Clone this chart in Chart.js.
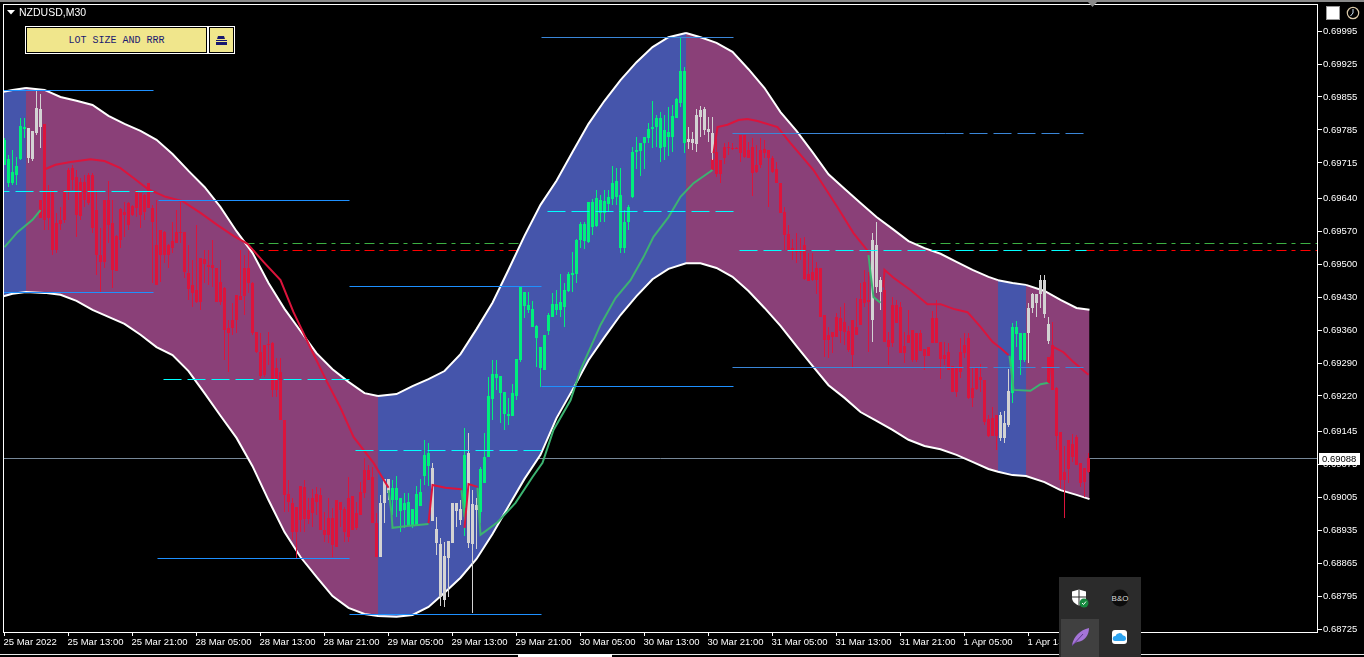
<!DOCTYPE html>
<html lang="en">
<head>
  <meta charset="UTF-8">
  <title>NZDUSD,M30</title>
  <script src="https://cdn.jsdelivr.net/npm/chart.js"></script>
  <style>
    html, body { margin: 0; height: 100%; background: #000; overflow: hidden; }
    #chart { position: absolute; left: 0; top: 0; }
    .abs { position: absolute; }
    .topstrip { left: 0; top: 0; width: 1364px; height: 2px; background: #8a8a8a; }
    .symbol { left: 19px; top: 6px; color: #fff; font: 10.5px "Liberation Sans", sans-serif; line-height: 13px; }
    .btn { background: #f0e68c; border: 1px solid #000; outline: 1px solid #fff; box-sizing: border-box; color: #191970; text-align: center; }
    .lot { left: 26px; top: 27px; width: 181px; height: 26px; font: 10px/26px "Liberation Mono", monospace; }
    .lot2 { left: 209px; top: 27px; width: 25px; height: 26px; }
    .tray { left: 1059px; top: 577px; width: 82px; height: 80px; background: #2b2b2b; }
    .hover { left: 2px; top: 42px; width: 38px; height: 38px; background: #404040; }
    .strip { left: 0; top: 654px; width: 1059px; height: 1px; background: #e8e8e8; }
    .strip2 { left: 1141px; top: 654px; width: 223px; height: 1px; background: #e8e8e8; }
    .tab { left: 518px; top: 654px; width: 94px; height: 3px; background: #fff; }
  </style>
</head>
<body>
  <canvas id="chart" width="1364" height="657"></canvas>

  <div class="abs topstrip"></div>
  <svg class="abs" style="left:1088px;top:2px" width="10" height="7"><path d="M0 0H9L4.5 5z" fill="#8a8a8a"/></svg>
  <svg class="abs" style="left:7px;top:10px" width="9" height="6"><path d="M0 0H8L4 4.5z" fill="#fff"/></svg>
  <div class="abs symbol">NZDUSD,M30</div>
  <div class="abs btn lot">LOT SIZE AND RRR</div>
  <div class="abs btn lot2">
    <svg width="13" height="11" style="margin-top:7px"><path d="M3 1h6l1 3H2zM1 5h11v1H1zM1 7h11v3H1z" fill="#191970"/></svg>
  </div>
  <svg class="abs" style="left:1326px;top:6px" width="15" height="15"><rect x="0.5" y="0.5" width="13" height="13" fill="#fff" stroke="#999"/></svg>
  <svg class="abs" style="left:1346px;top:6px" width="15" height="15"><circle cx="7" cy="7" r="5.7" fill="none" stroke="#d9c9a8" stroke-width="1.2"/><path d="M7 3v4l-2.5 3" fill="none" stroke="#cfe3f5"/></svg>

  <div class="abs strip"></div>
  <div class="abs strip2"></div>
  <div class="abs tab"></div>

  <div class="abs tray">
    <div class="abs hover"></div>
    <svg class="abs" style="left:12px;top:12px" width="20" height="20"><path d="M1 2.5 8 0.5l7 2v6c0 4-3 6.500-7 8-4-1.500-7-4-7-8z" fill="#fff"/><path d="M8 .5v16M1 8h14" stroke="#2b2b2b"/><circle cx="13" cy="14" r="4.500" fill="#16893f"/><path d="M11 14l1.500 1.500L15 12.500" stroke="#fff" fill="none"/></svg>
    <svg class="abs" style="left:52px;top:12px" width="18" height="18"><circle cx="9" cy="9" r="8.500" fill="#0c0c0c"/><text x="9" y="12" font-size="8" font-family="Liberation Sans" fill="#ddd" text-anchor="middle">B&amp;O</text></svg>
    <svg class="abs" style="left:12px;top:50px" width="20" height="20"><path d="M1 18C3 9 9 3 18 1c0 7-4 13-12 14z" fill="#a574d8"/><path d="M1 19 12 7" stroke="#5f3a8a"/></svg>
    <svg class="abs" style="left:53px;top:53px" width="16" height="15"><rect width="15" height="14" rx="3" fill="#fff"/><path d="M3 11a2.500 2.500 0 0 1 .5-5 4 4 0 0 1 7.500-.5 2.700 2.700 0 0 1 .5 5.500z" fill="#2ba3f0"/></svg>
  </div>

  <script>
    // x is the bar number (M30 bars), y is the price in points (69995 = 0.69995)
    const yTicks = [69995, 69925, 69855, 69785, 69715, 69640, 69570, 69500, 69430, 69360, 69290, 69220, 69145, 69075, 69005, 68935, 68865, 68795, 68725];
    const xTicks = [0, 16, 32, 48, 64, 80, 96, 112, 128, 144, 160, 176, 192, 208, 224, 240, 256];
    const xLabels = ['25 Mar 2022', '25 Mar 13:00', '25 Mar 21:00', '28 Mar 05:00', '28 Mar 13:00', '28 Mar 21:00', '29 Mar 05:00', '29 Mar 13:00', '29 Mar 21:00', '30 Mar 05:00', '30 Mar 13:00', '30 Mar 21:00', '31 Mar 05:00', '31 Mar 13:00', '31 Mar 21:00', '1 Apr 05:00', '1 Apr 13:00'];
    const currentPrice = 69088;

    const highs = [
      69768,69732,69742,69728,69810,69810,69789,69783,69870,69861,
      69798,69668,69657,69609,69621,69657,69704,69711,69700,69683,
      69689,69694,69694,69657,69577,69636,69677,69636,69562,69619,
      69632,69632,69626,69657,69651,69649,69672,69626,69636,69573,
      69570,69543,69590,69615,69632,69568,69541,69509,69583,69513,
      69530,69530,69551,69492,69509,69451,69381,69418,69435,69530,
      69519,69530,69462,69356,69354,69328,69356,69335,69301,69301,
      69169,69042,69003,68984,69029,69042,69003,69022,69027,69025,
      68974,69003,68982,68999,68995,68984,69048,69008,68995,69037,
      69088,69073,69069,68972,69010,69044,69044,69042,69050,69003,
      69014,69014,68980,69029,69044,69127,69120,69078,68963,68918,
      68910,68912,68993,68993,68999,69152,69141,69020,69003,69069,
      69141,69260,69296,69296,69263,69229,69216,69246,69299,69451,
      69441,69441,69422,69371,69324,69350,69396,69439,69445,69479,
      69460,69483,69526,69553,69590,69590,69632,69638,69657,69647,
      69657,69657,69708,69704,69704,69615,69626,69749,69770,69757,
      69770,69800,69847,69817,69823,69817,69834,69838,69853,69982,
      69919,69791,69781,69830,69836,69834,69812,69812,69766,69721,
      69757,69759,69757,69749,69774,69774,69759,69768,69753,69768,
      69764,69742,69730,69717,69672,69621,69583,69553,69566,69556,
      69558,69524,69524,69505,69492,69392,69367,69356,69396,69409,
      69418,69369,69381,69428,69460,69488,69483,69566,69590,69473,
      69451,69356,69430,69424,69420,69356,69403,69360,69354,69360,
      69320,69324,69401,69424,69335,69335,69333,69284,69279,69343,
      69354,69354,69279,69279,69288,69254,69180,69197,69180,69186,
      69188,69277,69375,69379,69354,69354,69418,69439,69437,69477,
      69477,69388,69377,69239,69144,69114,69127,69139,69137,69078,
      69067,69099
    ];
    const bodyTops = [
      69764,69723,69696,69708,69793,69791,69789,69783,69832,69830,
      69798,69657,69657,69587,69594,69657,69700,69704,69685,69674,
      69674,69689,69689,69615,69519,69636,69636,69587,69560,69617,
      69611,69630,69624,69657,69651,69647,69672,69619,69541,69573,
      69568,69541,69549,69568,69568,69568,69481,69456,69445,69513,
      69511,69498,69498,69492,69462,69449,69364,69381,69435,69432,
      69492,69492,69460,69356,69313,69328,69330,69333,69279,69271,
      69169,69012,68993,68984,69029,69027,68978,69003,69012,69010,
      68935,68961,68961,68999,68995,68980,69003,69008,68972,69016,
      69063,69063,69048,68950,68993,69044,69044,69025,69025,69003,
      68993,68995,68980,69012,69016,69095,69099,69067,68938,68906,
      68880,68912,68993,68993,68980,69095,69099,68991,68989,69065,
      69090,69220,69267,69267,69263,69229,69182,69226,69299,69451,
      69441,69413,69405,69369,69324,69350,69392,69415,69415,69420,
      69445,69479,69481,69551,69585,69585,69632,69632,69641,69636,
      69634,69643,69672,69677,69647,69590,69621,69738,69742,69757,
      69770,69787,69791,69810,69810,69785,69781,69815,69851,69910,
      69910,69766,69766,69817,69827,69830,69787,69779,69738,69721,
      69749,69749,69747,69747,69774,69774,69742,69749,69711,69742,
      69745,69742,69725,69702,69672,69611,69564,69534,69530,69530,
      69541,69479,69483,69492,69492,69392,69350,69356,69388,69386,
      69377,69358,69381,69367,69426,69462,69424,69551,69541,69466,
      69445,69339,69413,69413,69409,69326,69350,69360,69354,69354,
      69320,69324,69386,69386,69335,69307,69313,69284,69279,69313,
      69328,69343,69237,69279,69260,69254,69171,69173,69180,69180,
      69163,69231,69367,69367,69354,69354,69407,69437,69437,69466,
      69466,69373,69328,69237,69144,69059,69127,69118,69133,69078,
      69067,69088
    ];
    const bodyBottoms = [
      69711,69672,69672,69689,69723,69787,69725,69723,69779,69791,
      69594,69598,69530,69530,69585,69594,69653,69679,69604,69602,
      69636,69630,69577,69519,69505,69505,69583,69488,69485,69551,
      69604,69583,69604,69619,69604,69611,69619,69590,69456,69519,
      69519,69519,69534,69545,69566,69483,69447,69439,69420,69420,
      69500,69494,69492,69420,69420,69360,69354,69364,69381,69424,
      69432,69460,69354,69313,69262,69265,69328,69233,69233,69169,
      69010,68995,68931,68931,68957,68959,68959,68972,68995,68935,
      68925,68925,68904,68899,68978,68931,68921,68935,68940,68967,
      69014,69042,68950,68878,68878,68993,69014,68999,68999,68976,
      68978,68944,68946,68944,68986,69050,69071,68955,68908,68793,
      68787,68876,68908,68976,68957,68982,68908,68906,68978,68974,
      69035,69090,69214,69258,69226,69182,69178,69178,69220,69296,
      69411,69403,69367,69343,69279,69275,69358,69388,69403,69403,
      69409,69443,69477,69479,69551,69549,69547,69579,69581,69609,
      69609,69628,69638,69643,69534,69534,69590,69643,69738,69740,
      69757,69768,69787,69791,69747,69749,69770,69770,69810,69842,
      69757,69759,69757,69755,69813,69785,69781,69736,69691,69691,
      69725,69747,69745,69745,69736,69728,69725,69694,69696,69711,
      69736,69725,69696,69672,69609,69562,69530,69528,69526,69526,
      69468,69464,69466,69466,69388,69339,69339,69345,69345,69358,
      69356,69318,69307,69350,69371,69418,69420,69381,69451,69441,
      69335,69324,69333,69375,69311,69311,69333,69296,69296,69316,
      69305,69305,69333,69333,69299,69299,69275,69229,69229,69271,
      69311,69216,69216,69235,69254,69165,69135,69135,69135,69131,
      69131,69158,69226,69352,69296,69296,69354,69407,69418,69437,
      69394,69337,69233,69135,69042,69042,69065,69090,69073,69035,
      69037,69059
    ];
    const lows = [
      69711,69664,69668,69668,69721,69768,69715,69719,69774,69747,
      69573,69573,69519,69524,69573,69587,69636,69657,69558,69594,
      69621,69626,69566,69477,69441,69492,69545,69449,69485,69534,
      69558,69573,69602,69600,69577,69594,69619,69460,69456,69462,
      69502,69492,69524,69545,69545,69471,69424,69409,69418,69403,
      69460,69456,69451,69420,69413,69296,69271,69350,69354,69424,
      69392,69439,69350,69311,69258,69260,69286,69218,69218,69169,
      68974,68974,68914,68876,68931,68931,68948,68942,68967,68935,
      68910,68908,68878,68899,68942,68910,68910,68935,68935,68967,
      69003,69042,68950,68878,68878,68950,68999,68967,68963,68931,
      68940,68944,68940,68944,68986,69031,69029,68955,68882,68774,
      68772,68793,68908,68942,68946,68923,68897,68759,68895,68950,
      69035,69090,69169,69233,69163,69148,69158,69178,69211,69292,
      69386,69396,69367,69282,69239,69275,69350,69388,69392,69388,
      69367,69441,69441,69460,69534,69532,69545,69562,69579,69590,
      69590,69611,69626,69626,69524,69524,69573,69641,69702,69687,
      69702,69757,69747,69749,69717,69721,69730,69738,69810,69834,
      69736,69745,69742,69738,69770,69774,69759,69721,69685,69672,
      69713,69732,69742,69745,69717,69725,69725,69645,69694,69704,
      69725,69621,69694,69672,69609,69530,69530,69509,69502,69509,
      69466,69464,69464,69437,69388,69303,69301,69311,69345,69333,
      69328,69313,69282,69350,69371,69409,69313,69335,69439,69403,
      69335,69286,69324,69375,69311,69290,69333,69292,69292,69316,
      69275,69305,69333,69333,69256,69286,69275,69229,69218,69258,
      69301,69214,69197,69233,69229,69158,69133,69135,69105,69124,
      69120,69154,69205,69324,69265,69292,69290,69396,69388,69407,
      69386,69330,69233,69105,69025,68961,69035,69080,69073,69027,
      69006,69057
    ];

    // bar number where each colour run ends
    const runEnds = [5, 9, 93, 96, 106, 114, 115, 118, 170, 177, 216, 219, 248, 251, 255, 261, 271];
    const runKinds = ['up', 'flat', 'down', 'flat', 'up', 'flat', 'up', 'flat', 'up', 'flat', 'down', 'flat', 'down', 'flat', 'up', 'flat', 'down'];

    // red bodies showing under a grey bar in the same column
    const underBars = [9, 177, 261];
    const underTops = [69636, 69723, 69303];
    const underBottoms = [69598, 69700, 69248];

    // envelope
    const bandBars = [-0.25, 2, 5.375, 10, 14, 18, 22, 26, 30, 34, 38, 42, 46, 50, 54, 58, 62, 66, 70, 74, 78, 82, 86, 90, 93.375, 98, 102, 106, 110, 114, 118, 122, 126, 130, 134, 138, 142, 146, 150, 154, 158, 162, 166, 170.375, 174, 178, 182, 186, 190, 194, 198, 202, 206, 210, 214, 218, 222, 226, 230, 234, 238, 242, 246, 248.375, 252, 255.375, 260, 264, 268, 271.25];
    const bandUpper = [69866, 69870, 69874, 69870, 69855, 69847, 69838, 69815, 69798, 69783, 69764, 69734, 69698, 69664, 69621, 69570, 69524, 69460, 69405, 69358, 69311, 69277, 69250, 69226, 69220, 69224, 69241, 69256, 69273, 69309, 69362, 69418, 69488, 69560, 69626, 69677, 69738, 69798, 69847, 69891, 69929, 69961, 69982, 69991, 69982, 69970, 69951, 69914, 69874, 69823, 69783, 69738, 69691, 69660, 69630, 69600, 69575, 69549, 69534, 69522, 69505, 69488, 69473, 69466, 69460, 69456, 69443, 69424, 69407, 69403];
    const bandLower = [69432, 69437, 69441, 69439, 69435, 69422, 69403, 69388, 69373, 69350, 69324, 69307, 69273, 69226, 69178, 69131, 69071, 68999, 68931, 68878, 68836, 68795, 68770, 68757, 68753, 68751, 68755, 68772, 68802, 68834, 68874, 68927, 68986, 69044, 69095, 69173, 69233, 69296, 69345, 69392, 69432, 69468, 69490, 69502, 69502, 69492, 69473, 69443, 69407, 69369, 69326, 69284, 69243, 69216, 69186, 69167, 69148, 69127, 69114, 69107, 69095, 69080, 69065, 69059, 69052, 69050, 69037, 69020, 69010, 69001];
    const zoneEdges = [5.375, 93.375, 170.375, 248.375, 255.375];

    // moving average pieces, [bar, price]
    const redPieces = [
      [[10.25,69702],[12.75,69711],[16.5,69717],[21.5,69723],[25,69719],[29,69704],[32.25,69683],[35.75,69660],[40.25,69643],[44.5,69634],[49,69609],[53.25,69583],[57.25,69560],[60.75,69543],[64.75,69505],[69,69466],[72.25,69398],[76.5,69322],[80.75,69248],[84,69195],[87.25,69133],[92.25,69078],[96,69025]],
      [[106,68950],[107,69031],[110.25,69025],[114.25,69022]],
      [[115,68940],[116,69033],[118.25,69027]],
      [[177.25,69736],[178.25,69791],[180.75,69796],[183.5,69806],[185.75,69808],[188.25,69804],[193.25,69791],[196.5,69757],[202.25,69700],[208.25,69621],[212.25,69566],[216,69526]],
      [[219.75,69451],[220,69488],[222.25,69471],[226.5,69445],[230.75,69415],[234,69415],[237.25,69405],[240.75,69398],[244,69367],[247,69335],[249,69322],[251,69307]],
      [[261,69248],[261.5,69296],[262.25,69324],[264.75,69313],[267.25,69292],[271,69265]]
    ];
    const greenPieces = [
      [[0,69536],[3.25,69568],[7,69594],[9,69615]],
      [[96,69020],[96.75,68972],[97,68940],[100.75,68944],[106,68948]],
      [[114.25,69020],[115,68963]],
      [[118.25,69025],[119,68925],[123.25,68952],[127.75,68993],[132,69048],[134.5,69078],[137.25,69148],[141.5,69211],[144,69275],[149,69371],[152.75,69428],[156.5,69466],[159.75,69515],[162.25,69558],[166,69600],[169,69643],[172.25,69672],[177,69700]],
      [[216,69519],[216.5,69481],[217.25,69430],[219,69418]],
      [[251.25,69305],[252,69254],[252.25,69233],[256.5,69231],[259,69245],[261,69248]]
    ];

    // horizontal levels, [start bar, end bar, price]
    const blueLevels = [[-0.25,37.25,69870],[-0.25,37.25,69441],[38.5,86.25,69636],[86.25,134.25,69454],[38.25,86.25,68876],[86.25,134.25,68757],[134.25,182.25,69241]];
    const dimLevels = [[134.25,182.25,69982],[182,235.25,69779],[182,235.25,69282]];
    const dimDashLevels = [[235.25,270.5,69779],[235.25,271,69282]];
    const cyanLevels = [[39.75,86.25,69256],[87.75,134.25,69105],[135.75,182.25,69613],[183.75,270.5,69530],[-0.25,38.5,69655]];
    const dashDotLevels = [[60,328.2,69545,'#3cb043'],[60,328.2,69530,'#ff0000']];

    const red = '#dc143c', green = '#00f07c', grey = '#d3d3d3';
    const kindColors = { up: green, flat: grey, down: red };
    const bandBlue = '#4555ab', bandPurple = '#8a4078';

    const barColors = highs.map((h, i) => kindColors[runKinds[runEnds.findIndex(e => i <= e)]]);
    const zoneColor = bar => zoneEdges.filter(e => bar >= e).length % 2 === 0 ? bandBlue : bandPurple;

    function levelLine(level, color, order, dash, offset) {
      return {
        type: 'line',
        data: [{ x: level[0], y: level[2] }, { x: level[1], y: level[2] }],
        borderColor: color,
        borderWidth: 1,
        borderDash: dash || [],
        borderDashOffset: offset || 0,
        pointRadius: 0,
        crisp: true,
        order: order
      };
    }

    function maLine(piece, color) {
      return {
        type: 'line',
        data: piece.map(p => ({ x: p[0], y: p[1] })),
        borderColor: color,
        borderWidth: 2,
        pointRadius: 0,
        tension: 0,
        order: 3
      };
    }

    const datasets = [
      // the envelope; its fill runs to the next dataset
      {
        type: 'line',
        data: bandBars.map((b, i) => ({ x: b, y: bandUpper[i] })),
        borderColor: '#fff',
        borderWidth: 2,
        pointRadius: 0,
        tension: 0,
        fill: '+1',
        backgroundColor: bandPurple,
        segment: { backgroundColor: ctx => zoneColor(ctx.p0.parsed.x) },
        order: 8.5
      },
      {
        type: 'line',
        data: bandBars.map((b, i) => ({ x: b, y: bandLower[i] })),
        borderColor: '#fff',
        borderWidth: 2,
        pointRadius: 0,
        tension: 0,
        order: 8
      },
      // wicks and bodies
      {
        type: 'bar',
        data: highs.map((h, i) => ({ x: i, y: [lows[i], h] })),
        backgroundColor: barColors,
        barThickness: 1,
        grouped: false,
        inflateAmount: 0,
        order: 6
      },
      {
        type: 'bar',
        data: underBars.map((b, i) => ({ x: b, y: [underBottoms[i], underTops[i]] })),
        backgroundColor: red,
        barThickness: 3,
        grouped: false,
        inflateAmount: 0,
        order: 7
      },
      {
        type: 'bar',
        data: bodyTops.map((t, i) => ({ x: i, y: [bodyBottoms[i], t] })),
        backgroundColor: barColors,
        barThickness: 3,
        grouped: false,
        inflateAmount: 0,
        order: 5
      },
      levelLine([-0.375, 328.375, currentPrice], '#778899', 9)
    ];
    dashDotLevels.forEach(l => datasets.push(levelLine(l, l[3], 9, [10, 5, 4, 5])));
    redPieces.forEach(p => datasets.push(maLine(p, red)));
    greenPieces.forEach(p => datasets.push(maLine(p, '#3cb371')));
    blueLevels.forEach(l => datasets.push(levelLine(l, '#1e90ff', 2)));
    dimLevels.forEach(l => datasets.push(levelLine(l, '#3a86d8', 2)));
    dimDashLevels.forEach(l => datasets.push(levelLine(l, '#3a86d8', 2, [18, 6])));
    cyanLevels.forEach((l, i) => datasets.push(levelLine(l, '#00ffff', 2, [18, 6], i === 4 ? 12 : 0)));

    // keep one pixel lines and bar edges on whole pixels, like the terminal draws them
    const snapPlugin = {
      id: 'snap',
      afterDatasetsUpdate(chart) {
        chart.getSortedVisibleDatasetMetas().forEach(meta => {
          if (meta.type === 'bar') {
            meta.data.forEach(b => {
              b.y = Math.round(b.y);
              b.base = Math.round(b.base);
              if (b.y === b.base) b.base = b.y + 1;
            });
          } else if (chart.data.datasets[meta.index].crisp) {
            meta.data.forEach(p => { p.y = Math.round(p.y) + 0.5; });
          }
        });
      }
    };

    // frame round the plot and the price box on the axis
    const framePlugin = {
      id: 'frame',
      afterDraw(chart) {
        const ctx = chart.ctx;
        const y = Math.round(chart.scales.y.getPixelForValue(currentPrice));
        ctx.save();
        ctx.strokeStyle = '#fff';
        ctx.lineWidth = 1;
        ctx.strokeRect(3.5, 4.5, 1314, 628);
        ctx.fillStyle = '#fff';
        ctx.fillRect(1319, y - 5, 41, 12);
        ctx.fillStyle = '#000';
        ctx.font = '9.5px "Liberation Sans"';
        ctx.textBaseline = 'middle';
        ctx.fillText((currentPrice / 100000).toFixed(5), 1322, y + 1);
        ctx.restore();
      }
    };

    // no label overhang margins, the plot rectangle has to stay where it is
    const noMargins = s => { s.paddingTop = s.paddingBottom = s.paddingLeft = s.paddingRight = 0; };

    new Chart(document.getElementById('chart'), {
      type: 'line',
      data: { datasets: datasets },
      plugins: [snapPlugin, framePlugin],
      options: {
        responsive: false,
        animation: false,
        events: [],
        layout: { padding: { left: 3, top: 4, right: 0, bottom: 0 } },
        plugins: { legend: { display: false }, tooltip: { enabled: false } },
        scales: {
          x: {
            type: 'linear',
            offset: false,
            min: -0.375,
            max: 328.375,
            grid: { offset: false, drawOnChartArea: false, color: '#fff', tickLength: 4 },
            border: { display: false },
            afterFit: s => { s.height = 25; noMargins(s); },
            afterBuildTicks: s => { s.ticks = xTicks.map(v => ({ value: v })); },
            ticks: {
              autoSkip: false,
              maxRotation: 0,
              align: 'start',
              padding: 1,
              labelOffset: -1,
              color: '#fff',
              font: { family: 'Liberation Sans', size: 9.5 },
              callback: (v, i) => xLabels[i]
            }
          },
          y: {
            position: 'right',
            min: 68718.8,
            max: 70052.5,
            grid: { drawOnChartArea: false, color: '#fff', tickLength: 4 },
            border: { display: false },
            afterFit: s => { s.width = 46; noMargins(s); },
            afterBuildTicks: s => { s.ticks = yTicks.map(v => ({ value: v })); },
            ticks: {
              autoSkip: false,
              padding: 1,
              color: '#fff',
              font: { family: 'Liberation Sans', size: 9.5 },
              callback: v => (v / 100000).toFixed(5)
            }
          }
        }
      }
    });
  </script>
</body>
</html>
